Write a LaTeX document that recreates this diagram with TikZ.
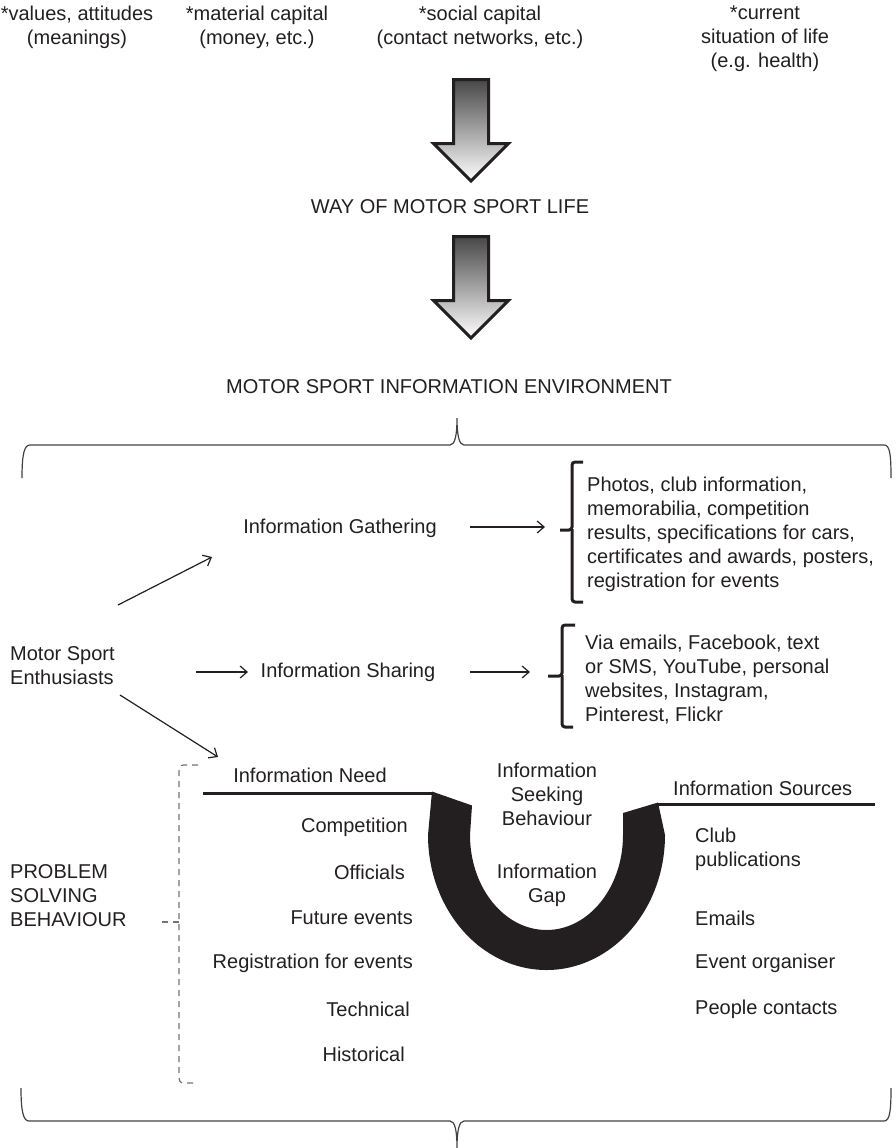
\documentclass[tikz,border=0pt]{standalone}
\usepackage{fontspec}
\setmainfont{Liberation Sans}
\usetikzlibrary{arrows.meta}
\definecolor{ink}{HTML}{231F20}
\begin{document}
\begin{tikzpicture}[x=1pt,y=-1pt,
  txt/.style={inner sep=0pt, text=ink, font=\fontsize{20}{24}\selectfont, align=center},
  txtl/.style={txt, align=left, anchor=west},
  txtr/.style={txt, anchor=east},
  arr/.style={draw=ink, line width=1.2pt, -{Straight Barb[length=7pt,width=12pt]}},
  bigarrow/.style={draw=ink, line width=3pt, line join=miter, top color=black!72, bottom color=white},
  brace/.style={draw=ink!85, line width=1.2pt},
  bracketline/.style={draw=ink, line width=3pt, rounded corners=3pt},
  thickline/.style={draw=ink, line width=3pt},
  dashbr/.style={draw=black!55, line width=1.2pt, dash pattern=on 6pt off 5pt}
]
\useasboundingbox (0,0) rectangle (895,1148);

% top row
\node[txt] (val) at (77,27) {*values, attitudes\\(meanings)};
\node[txt] (mat) at (257,27) {*material capital\\(money, etc.)};
\node[txt] (soc) at (480,27) {*social capital\\(contact networks, etc.)};
\node[txt] (cur) at (765,39) {*current\\situation of life\\(e.g. health)};

% big arrows
\path[bigarrow] (453.5,79.5) -- (488.5,79.5) -- (488.5,143.5) -- (508.5,143.5) -- (471,181) -- (433.5,143.5) -- (453.5,143.5) -- cycle;
\node[txt] (way) at (450,207) {WAY OF MOTOR SPORT LIFE};
\path[bigarrow] (453.5,236.5) -- (488.5,236.5) -- (488.5,300.5) -- (508.5,300.5) -- (471,338) -- (433.5,300.5) -- (453.5,300.5) -- cycle;
\node[txt] (env) at (449,387) {MOTOR SPORT INFORMATION ENVIRONMENT};

% top brace
\draw[brace] (22,478) .. controls (22,455) and (24,445) .. (30,445) -- (450,445)
  .. controls (455,445) and (457,435) .. (457,418) .. controls (457,435) and (459,445) .. (464,445)
  -- (884,445) .. controls (890,445) and (891,455) .. (891,478);

% gathering / sharing
\node[txt] (gath) at (340,528) {Information Gathering};
\node[txtl] (glist) at (587,534) {Photos, club information,\\memorabilia, competition\\results, specifications for cars,\\certificates and awards, posters,\\registration for events};
\draw[bracketline] (583,462) -| (572,530) -- (560,530);
\draw[bracketline] (572,529) |- (583,602);

\node[txtl] (mse) at (10,666) {Motor Sport\\Enthusiasts};
\node[txt] (share) at (348,672) {Information Sharing};
\node[txtl] (slist) at (585,680) {Via emails, Facebook, text\\or SMS, YouTube, personal\\websites, Instagram,\\Pinterest, Flickr};
\draw[bracketline] (575,625) -| (562,676) -- (548,676);
\draw[bracketline] (562,675) |- (573,727);

\coordinate (g0) at (118,605);
\coordinate (g1) at (212,557);
\coordinate (n0) at (120,695);
\coordinate (n1) at (218,757);
\coordinate (m0) at (196,672);
\coordinate (m1) at (248,672);
\coordinate (s0) at (470,672);
\coordinate (s1) at (530,672);
\coordinate (q0) at (470,527);
\coordinate (q1) at (545,527);
\draw[arr] (g0) -- (g1);
\draw[arr] (n0) -- (n1);
\draw[arr] (m0) -- (m1);
\draw[arr] (q0) -- (q1);
\draw[arr] (s0) -- (s1);

% information need / sources
\node[txt] (need) at (310,775) {Information Need};
\node[txtl] (src) at (673,788) {Information Sources};
\draw[thickline] (203,793) -- (433,793);
\draw[thickline] (657,804) -- (875,804);

% U shape
\fill[ink] (432,791.5) -- (472,805.5) -- (470,835)
  arc[start angle=180, end angle=0, x radius=76.5, y radius=95]
  -- (623,813) -- (658,802.5) -- (665,835)
  arc[start angle=0, end angle=180, x radius=118.5, y radius=135] -- cycle;

\node[txt] (seek) at (547,794) {Information\\Seeking\\Behaviour};
\node[txt] (gap) at (547,885) {Information\\Gap};

% left list
\node[txtr] (l1) at (408,827) {Competition};
\node[txtr] (l2) at (405,872) {Officials};
\node[txtr] (l3) at (413,918) {Future events};
\node[txtr] (l4) at (413,963) {Registration for events};
\node[txtr] (l5) at (410,1009) {Technical};
\node[txtr] (l6) at (405,1054) {Historical};

% right list
\node[txtl] (r1) at (695,849) {Club\\publications};
\node[txtl] (r2) at (695,918) {Emails};
\node[txtl] (r3) at (695,963) {Event organiser};
\node[txtl] (r4) at (695,1009) {People contacts};

% problem solving
\node[txtl] (psb) at (10,896) {PROBLEM\\SOLVING\\BEHAVIOUR};
\draw[dashbr] (198,765) -- (184,765) .. controls (180,765) and (179,767) .. (179,772) -- (179,1076) .. controls (179,1081) and (180,1083) .. (184,1083) -- (198,1083);
\draw[dashbr] (179,922) -- (158,922);

% bottom brace
\draw[brace] (21,1088) .. controls (21,1110) and (23,1121) .. (29,1121) -- (450,1121)
  .. controls (455,1121) and (457,1131) .. (457,1148) .. controls (457,1131) and (459,1121) .. (464,1121)
  -- (884,1121) .. controls (890,1121) and (891,1110) .. (891,1088);
\end{tikzpicture}
\end{document}
